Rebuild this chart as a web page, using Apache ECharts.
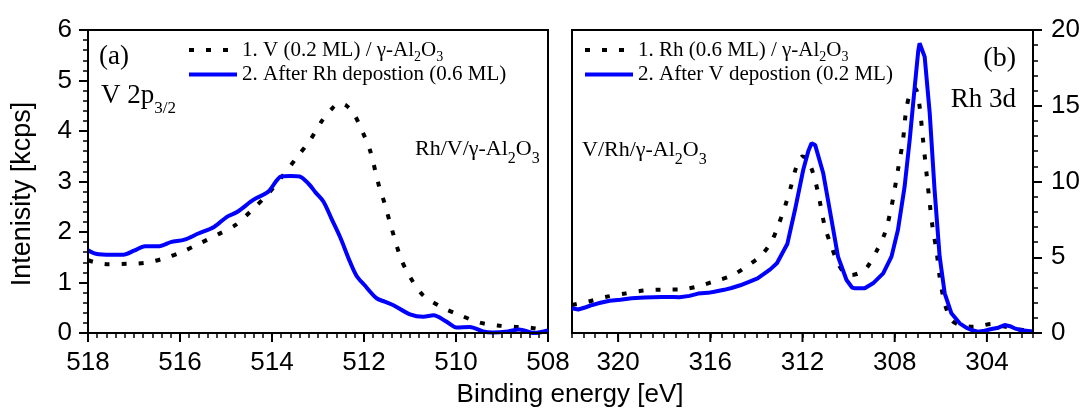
<!DOCTYPE html>
<html><head><meta charset="utf-8">
<script src="https://cdn.jsdelivr.net/npm/echarts@6/dist/echarts.min.js"></script>
<style>
html,body{margin:0;padding:0;background:#fff}
#wrap{position:relative;width:1086px;height:410px}
#c,#t1,#t2{position:absolute;left:0;top:0;width:1086px;height:410px}
#t1,#t2{pointer-events:none}
</style>
</head><body><div id="wrap"><div id="c"></div><div id="t1"></div><div id="t2"></div></div>
<script>
// ---------- Panel (a): V 2p3/2 ----------
const vDotE  = [518.0,517.8,517.55,517.15,516.76,516.37,515.97,515.58,515.18,514.79,514.43,514.08,513.76,513.45,513.17,512.93,512.72,512.54,512.38,512.22,512.03,511.87,511.67,511.55,511.43,511.2,511.0,510.72,510.33,509.93,509.5,509.1,508.7,508.35,508.0];
const vDotI  = [1.44,1.39,1.36,1.37,1.39,1.47,1.60,1.77,1.95,2.14,2.44,2.76,3.12,3.49,3.82,4.18,4.42,4.55,4.50,4.34,3.98,3.62,2.90,2.56,2.17,1.48,1.11,0.75,0.52,0.36,0.21,0.15,0.12,0.10,0.04];
const vBlueE = [518.0,517.83,517.5,517.23,517.0,516.76,516.45,516.2,515.9,515.6,515.26,514.98,514.75,514.4,514.08,513.8,513.6,513.4,513.2,513.05,512.88,512.7,512.52,512.3,512.16,512.0,511.73,511.55,511.36,511.0,510.71,510.49,510.2,509.99,509.7,509.41,509.2,508.87,508.63,508.3,508.0];
const vBlueI = [1.64,1.57,1.55,1.55,1.63,1.72,1.72,1.80,1.85,1.97,2.10,2.30,2.40,2.64,2.80,3.10,3.11,3.10,2.95,2.78,2.60,2.25,1.90,1.40,1.13,0.96,0.69,0.62,0.55,0.37,0.32,0.35,0.22,0.11,0.12,0.03,0.01,0.03,0.07,0.00,0.05];

// ---------- Panel (b): Rh 3d ----------
const rhDotE  = [322.0,321.3,320.5,319.7,318.9,318.15,317.34,316.6,315.85,315.08,314.42,313.79,313.34,313.04,312.75,312.5,312.26,312.0,311.8,311.54,311.32,311.03,310.74,310.46,310.2,309.88,309.55,309.23,308.8,308.43,308.14,307.86,307.64,307.5,307.28,307.1,306.95,306.77,306.62,306.48,306.34,306.19,306.05,305.83,305.54,305.18,304.6,304.2,303.8,303.3,302.7,302.0];
const rhDotI  = [1.85,2.07,2.39,2.61,2.80,2.86,2.87,3.05,3.40,3.78,4.40,5.12,6.05,7.15,8.40,9.67,10.98,11.65,11.5,10.54,9.22,7.02,5.70,4.60,4.00,3.83,3.95,4.27,5.37,6.58,8.34,10.76,12.74,14.72,16.04,16.1,15.3,12.74,10.54,8.56,6.80,5.48,3.72,1.96,0.86,0.53,0.42,0.50,0.59,0.45,0.25,0.15];
const rhBlueE = [322.0,321.73,321.4,321.12,320.86,320.37,319.9,319.41,318.86,318.1,317.6,317.34,316.9,316.53,316.1,315.83,315.4,315.08,314.7,314.32,313.95,313.72,313.4,313.11,312.9,312.66,312.33,311.97,311.75,311.61,311.45,311.39,311.1,310.74,310.46,310.09,309.85,309.73,309.3,308.94,308.5,308.14,307.86,307.57,307.35,307.13,306.98,306.92,306.85,306.7,306.48,306.27,306.05,305.83,305.54,305.18,304.9,304.67,304.39,304.1,303.8,303.5,303.23,303.0,302.8,302.5,302.0];
const rhBlueI = [1.63,1.55,1.70,1.85,1.96,2.13,2.20,2.29,2.35,2.38,2.38,2.36,2.45,2.60,2.65,2.72,2.85,2.97,3.15,3.37,3.60,3.85,4.20,4.60,5.20,5.87,8.10,10.76,12.0,12.52,12.4,12.3,10.54,7.46,5.04,3.50,3.00,2.95,2.95,3.28,3.94,5.04,6.80,9.66,12.74,16.26,18.6,19.12,19.0,18.24,14.5,9.44,5.04,2.62,1.30,0.64,0.35,0.20,0.09,0.15,0.26,0.35,0.53,0.45,0.31,0.18,0.10];

// ---------- axes / labels ----------
const leftXRange  = [508, 518];
const rightXRange = [302, 322];
const rightXTicks = [304, 308, 312, 316, 320];
const leftYRange  = [0, 6];
const rightYRange = [0, 20];
const seriesNames = ['1. V (0.2 ML) / γ-Al2O3', '2. After Rh depostion (0.6 ML)', '1. Rh (0.6 ML) / γ-Al2O3', '2. After V depostion (0.2 ML)'];
const xTitle = 'Binding energy [eV]';
const yTitle = 'Intenisity [kcps]';

const serif = 'Liberation Serif', sans = 'Liberation Sans';
const pairs = (E, I) => E.map((e, i) => [e, I[i]]);
const subify = s => s.split(/(Al2O3)/).filter(Boolean).map(p => p === 'Al2O3' ? '{t|Al}{s|2}{t|O}{s|3}' : '{t|' + p + '}').join('');
const gridA = {left: 88, top: 30, width: 460, height: 303};
const gridB = {left: 572, top: 30, width: 461, height: 303};

function makeAxis(extra, labelMargin) {
  return Object.assign({
    type: 'value',
    axisLine: {show: true, lineStyle: {color: '#000', width: 2}},
    axisTick: {show: false},
    splitLine: {show: false},
    axisLabel: {color: '#000', fontFamily: sans, fontSize: 26, margin: labelMargin}
  }, extra);
}
function makeLegend(left, data) {
  return {
    left: left, top: 36, data: data,
    orient: 'vertical', padding: 0, itemGap: 0, itemWidth: 48, itemHeight: 14,
    itemStyle: {opacity: 0},
    lineStyle: {width: 4},
    formatter: n => subify(n),
    textStyle: {color: '#000', fontFamily: serif, fontSize: 21,
      rich: {t: {fontFamily: serif, fontSize: 21, lineHeight: 28, color: '#000'},
             s: {fontFamily: serif, fontSize: 14, lineHeight: 14, padding: [14, 0, 0, 0], verticalAlign: 'bottom', color: '#000'}}}
  };
}
function annot(x, y, text, rich, align) {
  return {type: 'text', x: x, y: y, silent: true,
    style: {text: text, rich: rich, align: align || 'left', verticalAlign: 'middle', fill: '#000', fontFamily: serif}};
}
const richBig = {t: {fontFamily: serif, fontSize: 27, color: '#000'}};
const richV = {t: {fontFamily: serif, fontSize: 27, lineHeight: 42, color: '#000'},
               s: {fontFamily: serif, fontSize: 17, lineHeight: 17, padding: [25, 0, 0, 0], verticalAlign: 'bottom', color: '#000'}};
const richAl = {t: {fontFamily: serif, fontSize: 22, lineHeight: 36, color: '#000'},
                s: {fontFamily: serif, fontSize: 16, lineHeight: 16, padding: [20, 0, 0, 0], verticalAlign: 'bottom', color: '#000'}};

// ---------- main chart: curves, labels, legends ----------
const chart = echarts.init(document.getElementById('c'));
chart.setOption({
  animation: false,
  grid: [
    Object.assign({show: true, borderColor: '#000', borderWidth: 2}, gridA),
    Object.assign({show: true, borderColor: '#000', borderWidth: 2}, gridB)
  ],
  xAxis: [
    makeAxis({gridIndex: 0, min: leftXRange[0], max: leftXRange[1], interval: 2, inverse: true}, 17),
    makeAxis({gridIndex: 1, min: rightXRange[0], max: rightXRange[1], interval: 0.5, inverse: true,
      axisLabel: {color: '#000', fontFamily: sans, fontSize: 26, margin: 17,
        formatter: v => rightXTicks.indexOf(v) >= 0 ? String(v) : ''}}, 17)
  ],
  yAxis: [
    makeAxis({gridIndex: 0, min: leftYRange[0], max: leftYRange[1], interval: 1}, 16),
    makeAxis({gridIndex: 1, position: 'right', min: rightYRange[0], max: rightYRange[1], interval: 5}, 18)
  ],
  legend: [
    makeLegend(187, [seriesNames[0], seriesNames[1]]),
    makeLegend(583, [seriesNames[2], seriesNames[3]])
  ],
  series: [
    {name: seriesNames[0], type: 'line', xAxisIndex: 0, yAxisIndex: 0, data: pairs(vDotE, vDotI), symbol: 'none', smooth: 0.3,
      lineStyle: {color: '#000', width: 4, type: [5, 12]}, itemStyle: {color: '#000'}},
    {name: seriesNames[1], type: 'line', xAxisIndex: 0, yAxisIndex: 0, data: pairs(vBlueE, vBlueI), symbol: 'none', smooth: 0.3,
      lineStyle: {color: '#0000ff', width: 4}, itemStyle: {color: '#0000ff'}},
    {name: seriesNames[2], type: 'line', xAxisIndex: 1, yAxisIndex: 1, data: pairs(rhDotE, rhDotI), symbol: 'none', smooth: 0.3,
      lineStyle: {color: '#000', width: 4, type: [5, 12]}, itemStyle: {color: '#000'}},
    {name: seriesNames[3], type: 'line', xAxisIndex: 1, yAxisIndex: 1, data: pairs(rhBlueE, rhBlueI), symbol: 'none',
      lineStyle: {color: '#0000ff', width: 4}, itemStyle: {color: '#0000ff'}}
  ],
  graphic: [
    annot(99, 57, '{t|(a)}', richBig),
    annot(101, 96, '{t|V 2p}{s|3/2}', richV),
    annot(415, 149, subify('Rh/V/γ-Al2O3'), richAl),
    annot(1016, 59, '{t|(b)}', {t: {fontFamily: serif, fontSize: 28, color: '#000'}}, 'right'),
    annot(1016, 100, '{t|Rh 3d}', richBig, 'right'),
    annot(582, 150, subify('V/Rh/γ-Al2O3'), richAl),
    {type: 'text', x: 570, y: 395, silent: true,
      style: {text: xTitle, align: 'center', verticalAlign: 'middle', fill: '#000', fontFamily: sans, fontSize: 26}},
    {type: 'text', x: 23, y: 194, rotation: Math.PI / 2, silent: true,
      style: {text: yTitle, align: 'center', verticalAlign: 'middle', fill: '#000', fontFamily: sans, fontSize: 27}}
  ]
});

// ---------- tick-mark layers (same grids and scales, ticks only) ----------
function tickAxis(extra, len, minorSplit) {
  const a = {type: 'value', splitLine: {show: false}, axisLabel: {show: false},
    axisLine: {show: true, lineStyle: {color: '#000', width: 2}},
    axisTick: {show: true, length: len, lineStyle: {color: '#000', width: len > 6 ? 2 : 1.5}}};
  if (minorSplit) a.minorTick = {show: true, splitNumber: minorSplit, length: 5, lineStyle: {color: '#000', width: 1.5}};
  return Object.assign(a, extra);
}
const t1 = echarts.init(document.getElementById('t1'));
t1.setOption({
  animation: false,
  grid: [Object.assign({}, gridA)],
  xAxis: [tickAxis({min: leftXRange[0], max: leftXRange[1], interval: 2, inverse: true}, 9, 10)],
  yAxis: [tickAxis({min: leftYRange[0], max: leftYRange[1], interval: 1}, 9, 5)],
  series: []
});
const t2 = echarts.init(document.getElementById('t2'));
t2.setOption({
  animation: false,
  grid: [Object.assign({}, gridB)],
  xAxis: [tickAxis({min: rightXRange[0], max: rightXRange[1], interval: 0.5, inverse: true}, 5, 0)],
  yAxis: [tickAxis({position: 'right', min: rightYRange[0], max: rightYRange[1], interval: 5}, 9, 5)],
  series: [{type: 'custom', clip: false, z: 10,
    data: rightXTicks.map(v => [v, rightYRange[0]]),
    renderItem: function (params, api) {
      const p = api.coord([api.value(0), api.value(1)]);
      return {type: 'line', shape: {x1: p[0], y1: p[1], x2: p[0], y2: p[1] + 9}, style: {stroke: '#000', lineWidth: 2}};
    }}]
});
</script>
</body></html>
